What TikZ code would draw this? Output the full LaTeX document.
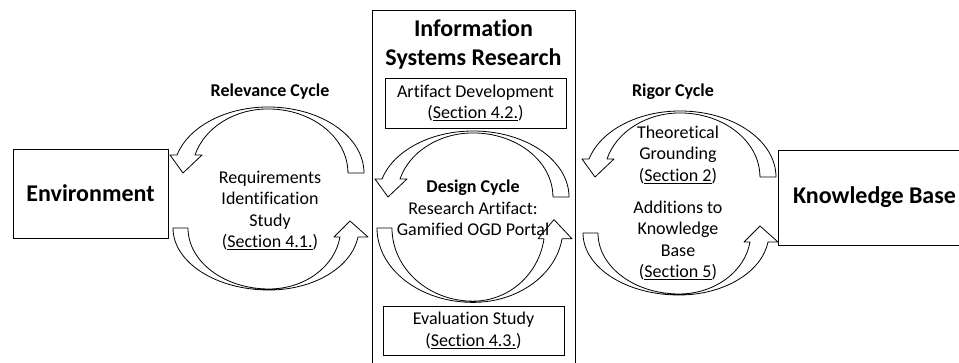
\documentclass[tikz,border=0pt]{standalone}
\usepackage{fontspec}
\setmainfont{Carlito}[Ligatures={NoCommon,NoContextual}]
\usetikzlibrary{positioning}

\begin{document}
\begin{tikzpicture}[x=1pt, y=1pt]
        % Define styles for shapes
        \tikzstyle{box} = [draw, line width=0.9pt, align=center, inner sep=0pt]
        \tikzstyle{bigtext} = [align=center, font=\fontsize{24}{29}\selectfont\bfseries]
        \tikzstyle{txt} = [align=center, font=\fontsize{18}{21.5}\selectfont]
        \tikzstyle{cyclearrow} = [draw, fill=white, line width=0.8pt, line join=round]
        % Curved block arrows (origin = centre of the arc, at the tail)
        \tikzset{
            pics/topcurve/.style={code={
                \draw[cyclearrow] (96,0) arc[start angle=0, end angle=90, x radius=96, y radius=66]
                    arc[start angle=90, end angle=164.2, x radius=94.6, y radius=66]
                    -- (-98,18) -- (-85,0) -- (-66,18) -- (-73,18)
                    arc[start angle=163.7, end angle=90, x radius=76, y radius=64]
                    arc[start angle=90, end angle=0, x radius=80, y radius=64] -- cycle;
            }},
            pics/bottomcurve/.style={code={
                \draw[cyclearrow] (-96,0) arc[start angle=180, end angle=270, x radius=96, y radius=62]
                    arc[start angle=270, end angle=351.65, x radius=90, y radius=62]
                    -- (99,-9) -- (81,7) -- (65,-9) -- (71,-9)
                    arc[start angle=351.5, end angle=270, x radius=71.8, y radius=61]
                    arc[start angle=270, end angle=180, x radius=81, y radius=61] -- cycle;
            }}
        }
        \useasboundingbox (0,0) rectangle (959,363);

        % Draw boxes
        \node[box, minimum width=155, minimum height=89] (env) at (90.5,169.5) {};
        \node[box, minimum width=193, minimum height=95] (kb) at (874.5,165.5) {};
        \node[box, minimum width=203, minimum height=365] (isr) at (473.5,170.5) {};
        \node[box, txt, minimum width=181, minimum height=50] (artdev) at (475.5,260) {
            Artifact Development\\(\underline{Section 4.2.})};
        \node[box, txt, minimum width=181, minimum height=49] (evalstudy) at (473.5,32.5) {
            Evaluation Study\\(\underline{Section 4.3.})};

        % Draw cycles
        \pic at (268,190) {topcurve};
        \pic at (269,135) {bottomcurve};
        \pic at (473,166) {topcurve};
        \pic[yscale=1.2] at (473,135) {bottomcurve};
        \pic at (680,186) {topcurve};
        \pic at (679,130) {bottomcurve};

        % Labels
        \node[bigtext] (envtext) at (env) {Environment};
        \node[bigtext] (kbtext) at (kb) {Knowledge Base};
        \node[bigtext] (isrtitle) at (473.5,319) {Information\\Systems Research};
        \node[txt, font=\fontsize{18}{21.5}\selectfont\bfseries] (relcycle) at (270,271) {Relevance Cycle};
        \node[txt, font=\fontsize{18}{21.5}\selectfont\bfseries] (rigcycle) at (673,271) {Rigor Cycle};
        \node[txt] (reqstudy) at (270,152.5) {Requirements\\Identification\\Study\\(\underline{Section 4.1.})};
        \node[txt] (designcycle) at (473,155) {\textbf{Design Cycle}\\Research Artifact:\\Gamified OGD Portal};
        \node[txt] (grounding) at (678,208) {Theoretical\\Grounding\\(\underline{Section 2})};
        \node[txt] (additions) at (678,122.5) {Additions to\\Knowledge\\Base\\(\underline{Section 5})};
    \end{tikzpicture}
\end{document}
